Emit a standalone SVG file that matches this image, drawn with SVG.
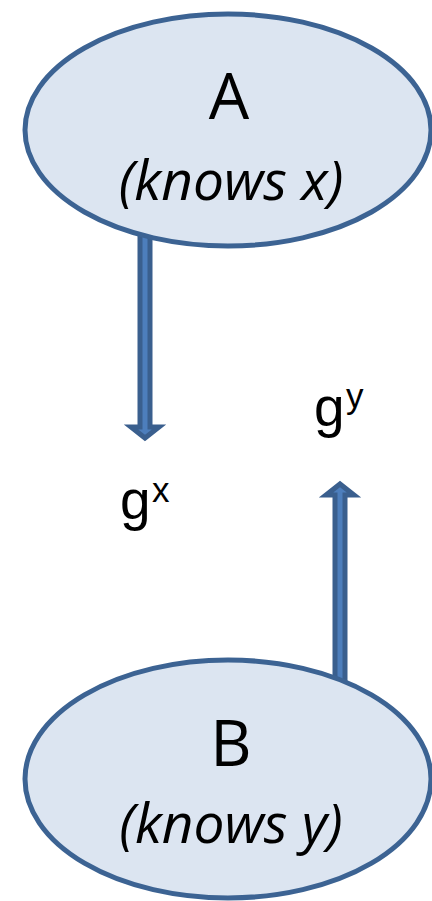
<svg xmlns="http://www.w3.org/2000/svg" width="432" height="901" viewBox="0 0 432 901">
<style>
.node{fill:#DCE5F1;stroke:#3C6393;stroke-width:5}
.arr{fill:#4D7EBC;stroke:#3A5F8E;stroke-width:5;stroke-linejoin:miter}
.big{font-family:"Open Sans",sans-serif;font-size:64px;fill:#000;text-anchor:middle}
.it{font-family:"Open Sans",sans-serif;font-style:italic;font-size:55px;fill:#000;text-anchor:middle}
.g{font-family:"Liberation Sans",Arial,sans-serif;font-size:55px;fill:#000}
.sup{font-family:"Liberation Sans",Arial,sans-serif;font-size:35px;fill:#000}
</style>
<g id="connectors">
<polygon class="arr" points="140,230 150,230 150,427 159,427 145,438 131,427 140,427"/>
<polygon class="arr" points="335,695 345,695 345,495 354,495 340,484 326,495 335,495"/>
</g>
<g id="nodeA">
<ellipse class="node" cx="228" cy="130" rx="203" ry="116"/>
<text class="big" x="229" y="119">A</text>
<text class="it" x="231" y="200">(knows x)</text>
</g>
<g id="nodeB">
<ellipse class="node" cx="228" cy="779" rx="203" ry="119"/>
<text class="big" x="231" y="766">B</text>
<text class="it" x="231" y="843">(knows y)</text>
</g>
<g id="labelGx">
<text class="g" x="120" y="519">g</text>
<text class="sup" x="152" y="502">x</text>
</g>
<g id="labelGy">
<text class="g" x="314" y="426">g</text>
<text class="sup" x="346" y="408">y</text>
</g>
</svg>
